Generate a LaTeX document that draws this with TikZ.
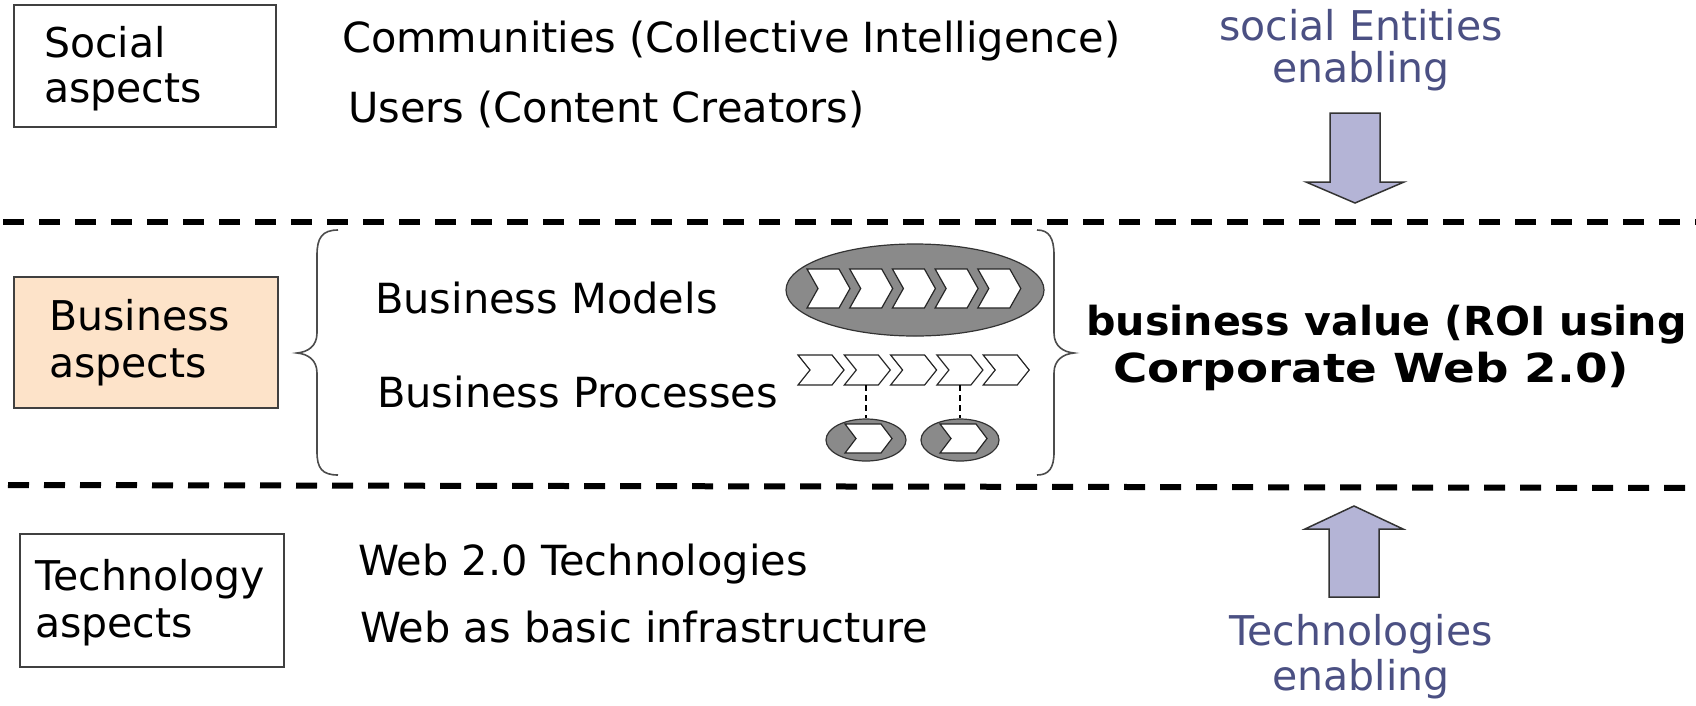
\documentclass[tikz,border=0pt]{standalone}
\usepackage{fontspec}
\setmainfont{DejaVu Sans}
\usetikzlibrary{shapes.geometric}
\definecolor{peach}{HTML}{FDE3C9}
\definecolor{bluetxt}{HTML}{4B5083}
\definecolor{arrowfill}{HTML}{B4B4D6}
\definecolor{ellgray}{HTML}{8A8A8A}
\definecolor{boxline}{HTML}{404040}
\begin{document}
\begin{tikzpicture}[x=1pt,y=-1pt,
  txt/.style={anchor=base west, inner sep=0pt, font=\fontsize{41.5}{46}\selectfont},
  boxtxt/.style={anchor=base west, inner sep=0pt, font=\fontsize{41}{46}\selectfont},
  boldtxt/.style={anchor=base west, inner sep=0pt, font=\fontsize{40}{46}\selectfont\bfseries},
  btxt/.style={anchor=base, inner sep=0pt, text=bluetxt, font=\fontsize{41}{46}\selectfont},
  aspectbox/.style={draw=boxline, line width=2pt, inner sep=0pt},
  divider/.style={line width=6pt, dash pattern=on 21pt off 15pt},
  bigarrow/.style={draw=black!80, line width=1.5pt, fill=arrowfill, line join=miter},
  chevron/.style={draw=black!85, fill=white, line width=1.2pt, line join=miter},
  ellnode/.style={ellipse, draw=black!80, fill=ellgray, line width=1.2pt, inner sep=0pt},
  bracestyle/.style={draw=black!70, line width=1.6pt},
  linkstyle/.style={draw=black, line width=1.2pt, dash pattern=on 6pt off 4pt}
]
\useasboundingbox (0,0) rectangle (1696,705);
\fill[white] (0,0) rectangle (1696,705);

% dividers
\draw[divider] (3,222) -- (1696,222);
\draw[divider] (8,485) -- (1696,488);

% left boxes
\node[aspectbox, minimum width=262pt, minimum height=122pt] (socialbox) at (145,66) {};
\node[aspectbox, fill=peach, minimum width=264pt, minimum height=131pt] (busbox) at (146,342.5) {};
\node[aspectbox, minimum width=264pt, minimum height=133pt] (techbox) at (152,600.5) {};
\node[boxtxt] (soc1) at (44,57) {Social};
\node[boxtxt] (soc2) at (44,102) {aspects};
\node[boxtxt] (bus1) at (49,330) {Business};
\node[boxtxt] (bus2) at (49,377) {aspects};
\node[boxtxt] (tec1) at (35,590) {Technology};
\node[boxtxt] (tec2) at (35,637) {aspects};

% middle texts
\node[txt] (comm) at (342,52) {Communities (Collective Intelligence)};
\node[txt] (users) at (348,122) {Users (Content Creators)};
\node[txt] (bmod) at (375,313) {Business Models};
\node[txt] (bproc) at (377,407) {Business Processes};
\node[txt] (web20) at (358,575) {Web 2.0 Technologies};
\node[txt] (webinf) at (360,642) {Web as basic infrastructure};

% braces
\draw[bracestyle] (338,230) .. controls (322,230) and (317,238) .. (317,255) -- (317,333)
  .. controls (317,346) and (308,352) .. (297,353)
  .. controls (308,354) and (317,360) .. (317,373) -- (317,452)
  .. controls (317,468) and (322,475) .. (338,475);
\draw[bracestyle] (1037,230) .. controls (1049,230) and (1054,238) .. (1054,255) -- (1054,333)
  .. controls (1054,346) and (1063,352) .. (1074,353)
  .. controls (1063,354) and (1054,360) .. (1054,373) -- (1054,452)
  .. controls (1054,468) and (1049,475) .. (1037,475);

% business model ellipse with chevrons
\node[ellnode, minimum width=258pt, minimum height=92pt] (bmell) at (915,290) {};
\foreach \i in {0,...,4}{
  \pgfmathsetmacro{\L}{807+42.7*\i}
  \draw[chevron] (\L,269) -- (\L+32,269) -- (\L+43,288.5) -- (\L+32,308) -- (\L,308) -- (\L+11,288.5) -- cycle;
}

% business process chevrons
\foreach \i in {0,...,4}{
  \pgfmathsetmacro{\L}{798+46.3*\i}
  \draw[chevron] (\L,355) -- (\L+34,355) -- (\L+46,370) -- (\L+34,385) -- (\L,385) -- (\L+12,370) -- cycle;
}
\coordinate (p2) at (866,385);
\coordinate (p4) at (960,385);

% sub-process ellipses
\node[ellnode, minimum width=80pt, minimum height=42pt] (sub1) at (866,440) {};
\node[ellnode, minimum width=78pt, minimum height=42pt] (sub2) at (960,440) {};
\draw[linkstyle] (p2) -- (sub1.north);
\draw[linkstyle] (p4) -- (sub2.north);
\draw[chevron] (845,424) -- (881,424) -- (892,438.5) -- (881,453) -- (845,453) -- (856,438.5) -- cycle;
\draw[chevron] (940,424) -- (976,424) -- (987,438.5) -- (976,453) -- (940,453) -- (951,438.5) -- cycle;

% business value
\node[boldtxt] (bv1) at (1086,335) {\scalebox{1.03}[1]{business value (ROI using}};
\node[boldtxt] (bv2) at (1113,382) {\scalebox{1.17}[1]{Corporate Web 2.0)}};

% enabling arrows and labels
\node[btxt] (se1) at (1361,40) {social Entities};
\node[btxt] (se2) at (1361,82) {enabling};
\draw[bigarrow] (1330,113) -- (1380,113) -- (1380,182) -- (1404,182) -- (1355,203) -- (1306,182) -- (1330,182) -- cycle;
\draw[bigarrow] (1329,597) -- (1379,597) -- (1379,529) -- (1403,529) -- (1354,506) -- (1305,529) -- (1329,529) -- cycle;
\node[btxt] (te1) at (1361,645) {Technologies};
\node[btxt] (te2) at (1361,690) {enabling};
\end{tikzpicture}
\end{document}
